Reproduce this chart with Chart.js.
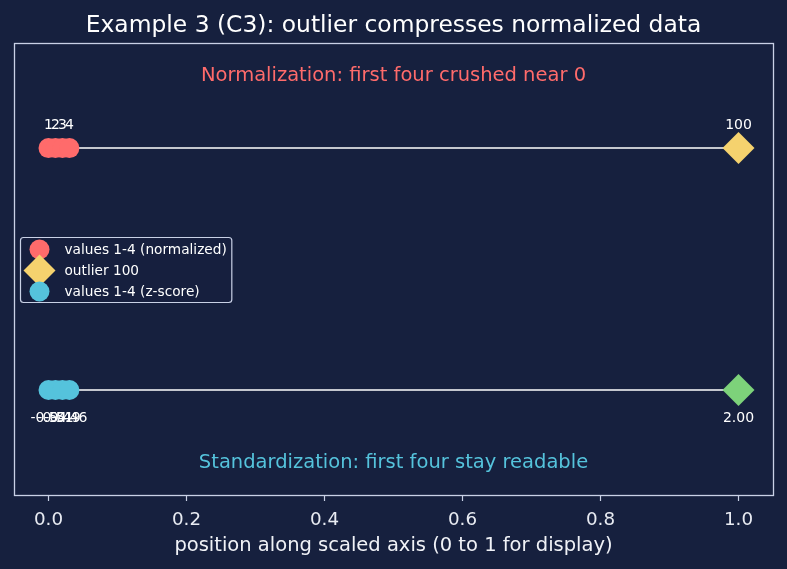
<!DOCTYPE html>
<html>
<head>
<meta charset="utf-8">
<script src="https://cdn.jsdelivr.net/npm/chart.js@4.4.1/dist/chart.umd.min.js"></script>
<style>
  html, body { margin: 0; padding: 0; background: #16203e; }
  canvas { display: block; }
</style>
</head>
<body>
<canvas id="chart" width="787" height="569"></canvas>
<script>
// values shown on each row
const rawValues = ['1', '2', '3', '4'];
const zLabels = ['-0.54', '-0.51', '-0.49', '-0.46'];
const outlierLabel = ['100'];
const outlierZLabel = ['2.00'];

// display positions on the 0..1 axis
const smallPositions = [0, 0.0101, 0.0202, 0.0303];
const outlierPositions = [1];
const linePositions = [0, 1];

const normRow = 1;
const zRow = 0;
const xTicks = [0, 0.2, 0.4, 0.6, 0.8, 1.0];

const noteTexts = ['Normalization: first four crushed near 0', 'Standardization: first four stay readable'];
const noteRows = [1.3, -0.3];

const FONT = 'DejaVu Sans';
const RED = '#ff6b6b';
const YELLOW = '#f5d26e';
const CYAN = '#55c3dc';
const GREEN = '#7dd27a';
const FRAME = '#c9d1e6';
const BG = '#16203e';

const pts = (xs, row) => xs.map(x => ({ x: x, y: row }));

const notesPlugin = {
    id: 'notes',
    afterDatasetsDraw(chart) {
        const ctx = chart.ctx;
        const xs = chart.scales.x, ys = chart.scales.y;
        ctx.save();
        ctx.textAlign = 'center';
        ctx.textBaseline = 'middle';
        // value labels next to the markers
        ctx.font = '14px "' + FONT + '"';
        ctx.fillStyle = '#ffffff';
        chart.data.datasets.forEach((ds, i) => {
            if (!ds.pointLabels) return;
            chart.getDatasetMeta(i).data.forEach((el, j) => {
                ctx.fillText(ds.pointLabels[j], el.x, el.y + ds.labelOffset);
            });
        });
        // row captions
        ctx.font = '19.5px "' + FONT + '"';
        noteTexts.forEach((t, i) => {
            ctx.fillStyle = i === 0 ? RED : CYAN;
            ctx.fillText(t, xs.getPixelForValue(0.5), ys.getPixelForValue(noteRows[i]));
        });
        ctx.restore();
    }
};

const framePlugin = {
    id: 'frame',
    afterDraw(chart) {
        const a = chart.chartArea;
        const ctx = chart.ctx;
        ctx.save();
        ctx.strokeStyle = FRAME;
        ctx.lineWidth = 1.3;
        ctx.strokeRect(Math.round(a.left) + 0.5, Math.round(a.top) + 0.5,
            Math.round(a.right - a.left), Math.round(a.bottom - a.top));

        // legend box, centre left
        const items = chart.data.datasets.filter(d => d.inLegend);
        ctx.font = '13.7px "' + FONT + '"';
        const textW = Math.max(...items.map(d => ctx.measureText(d.label).width));
        const rowH = 21;
        const bw = 44 + textW + 5;
        const bh = rowH * items.length + 2;
        const bx = Math.round(a.left) + 6.5;
        const by = Math.round((a.top + a.bottom) / 2 - bh / 2) + 0.5;
        const r = 3;
        ctx.beginPath();
        ctx.moveTo(bx + r, by);
        ctx.lineTo(bx + bw - r, by);
        ctx.arcTo(bx + bw, by, bx + bw, by + r, r);
        ctx.lineTo(bx + bw, by + bh - r);
        ctx.arcTo(bx + bw, by + bh, bx + bw - r, by + bh, r);
        ctx.lineTo(bx + r, by + bh);
        ctx.arcTo(bx, by + bh, bx, by + bh - r, r);
        ctx.lineTo(bx, by + r);
        ctx.arcTo(bx, by, bx + r, by, r);
        ctx.closePath();
        ctx.fillStyle = 'rgba(22,32,62,0.85)';
        ctx.fill();
        ctx.strokeStyle = FRAME;
        ctx.lineWidth = 1.2;
        ctx.stroke();

        ctx.textAlign = 'left';
        ctx.textBaseline = 'middle';
        items.forEach((d, i) => {
            const cy = by + 12 + i * rowH;
            const cx = bx + 19;
            ctx.fillStyle = d.backgroundColor;
            ctx.beginPath();
            if (d.pointStyle === 'rectRot') {
                ctx.moveTo(cx - 16, cy);
                ctx.lineTo(cx, cy - 16);
                ctx.lineTo(cx + 16, cy);
                ctx.lineTo(cx, cy + 16);
                ctx.closePath();
            } else {
                ctx.arc(cx, cy, 10, 0, Math.PI * 2);
            }
            ctx.fill();
            ctx.fillStyle = '#ffffff';
            ctx.fillText(d.label, bx + 44, cy + 1);
        });
        ctx.restore();
    }
};

new Chart(document.getElementById('chart'), {
    type: 'scatter',
    data: {
        datasets: [
            { label: 'norm line', data: pts(linePositions, normRow), showLine: true, pointRadius: 0,
              borderColor: '#ffffff', borderWidth: 1.5, order: 2 },
            { label: 'z line', data: pts(linePositions, zRow), showLine: true, pointRadius: 0,
              borderColor: '#ffffff', borderWidth: 1.5, order: 2 },
            { label: 'values 1-4 (normalized)', data: pts(smallPositions, normRow), inLegend: true,
              backgroundColor: RED, borderWidth: 0, pointRadius: 10, pointStyle: 'circle',
              pointLabels: rawValues, labelOffset: -23, order: 1 },
            { label: 'outlier 100', data: pts(outlierPositions, normRow), inLegend: true,
              backgroundColor: YELLOW, borderWidth: 0, pointRadius: 16, pointStyle: 'rectRot',
              pointLabels: outlierLabel, labelOffset: -23, order: 1 },
            { label: 'values 1-4 (z-score)', data: pts(smallPositions, zRow), inLegend: true,
              backgroundColor: CYAN, borderWidth: 0, pointRadius: 10, pointStyle: 'circle',
              pointLabels: zLabels, labelOffset: 28, order: 1 },
            { label: 'outlier z', data: pts(outlierPositions, zRow),
              backgroundColor: GREEN, borderWidth: 0, pointRadius: 16, pointStyle: 'rectRot',
              pointLabels: outlierZLabel, labelOffset: 28, order: 1 }
        ]
    },
    options: {
        responsive: false,
        animation: false,
        layout: { autoPadding: false, padding: { left: 14, right: 14, top: 0, bottom: 11 } },
        plugins: {
            legend: { display: false },
            tooltip: { enabled: false },
            title: {
                display: true,
                text: 'Example 3 (C3): outlier compresses normalized data',
                color: '#ffffff',
                font: { family: FONT, size: 23.4, weight: 'normal' },
                padding: { top: 12, bottom: 3 }
            }
        },
        scales: {
            x: {
                type: 'linear',
                min: -0.05,
                max: 1.05,
                afterBuildTicks: s => { s.ticks = xTicks.map(v => ({ value: v })); },
                afterFit: s => { s.height = 63; s.paddingLeft = 0; s.paddingRight = 0; },
                grid: { drawOnChartArea: false, drawTicks: true, tickLength: 6, color: FRAME, tickWidth: 1.2 },
                border: { display: false },
                ticks: { color: '#e8ebf2', font: { family: FONT, size: 18.3, lineHeight: 1 }, padding: 10,
                         maxRotation: 0, callback: v => v.toFixed(1) },
                title: {
                    display: true,
                    text: 'position along scaled axis (0 to 1 for display)',
                    color: '#f0f2f7',
                    font: { family: FONT, size: 19.5 },
                    padding: { top: 0, bottom: 0 }
                }
            },
            y: { type: 'linear', min: -0.434, max: 1.434, display: false }
        }
    },
    plugins: [notesPlugin, framePlugin]
});
</script>
</body>
</html>
